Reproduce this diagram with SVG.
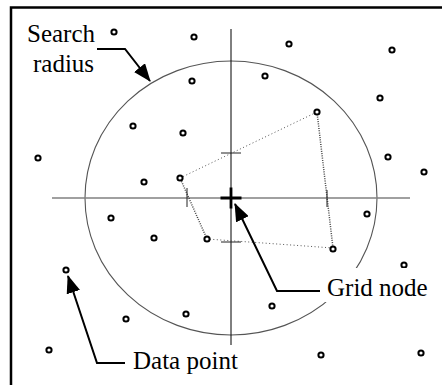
<svg xmlns="http://www.w3.org/2000/svg" width="442" height="385" viewBox="0 0 442 385">
<defs>
<style>
.frame{stroke:#000;stroke-width:2.5;fill:none}
.axisv{stroke:#000;stroke-width:1;fill:none}
.axish{stroke:#808080;stroke-width:1.5;fill:none}
.radius{stroke:#555;stroke-width:1.1;fill:none}
.edge{stroke:#555;stroke-width:1;stroke-dasharray:1 2.5;fill:none}
.edge2{stroke:#444;stroke-width:1.5;stroke-dasharray:1 1.3;fill:none}
.tick{stroke:#222;stroke-width:1;fill:none}
.pt{stroke:#000;stroke-width:2;fill:#fff}
.lead{stroke:#000;stroke-width:2;fill:none}
.lbl{font-size:25px;fill:#000}
</style>
<marker id="arr" viewBox="0 0 18 14" refX="17" refY="7" markerWidth="18" markerHeight="14" markerUnits="userSpaceOnUse" orient="auto">
<path d="M0,0 L18,7 L0,14 Z" fill="#000"/>
</marker>
</defs>
<rect width="442" height="385" fill="#fff"/>
<path class="frame" d="M11,385 V7.5 H442"/>
<g id="search-circle">
<ellipse class="radius" cx="231" cy="198" rx="146" ry="137"/>
</g>
<g id="axes">
<line class="axish" x1="52" y1="198" x2="410" y2="198"/>
<line class="axisv" x1="231" y1="29" x2="231" y2="345"/>
</g>
<g id="neighborhood">
<line class="edge" x1="180" y1="178" x2="317" y2="112"/>
<line class="edge2" x1="317" y1="112" x2="333" y2="248"/>
<line class="edge" x1="333" y1="248" x2="207" y2="239"/>
<line class="edge2" x1="207" y1="239" x2="180" y2="178"/>
<line class="tick" x1="221" y1="153" x2="241" y2="153"/>
<line class="tick" x1="221" y1="242" x2="241" y2="242"/>
<line class="tick" x1="187" y1="188" x2="187" y2="207"/>
<line class="tick" x1="327" y1="190" x2="327" y2="207"/>
</g>
<g id="grid-node">
<path d="M220.5,198 H241.5 M231,187.5 V208.5" stroke="#000" stroke-width="2.8" fill="none"/>
</g>
<g id="data-points">
<circle class="pt" cx="114" cy="32" r="2.6"/>
<circle class="pt" cx="194" cy="37" r="2.6"/>
<circle class="pt" cx="192" cy="81" r="2.6"/>
<circle class="pt" cx="133" cy="126" r="2.6"/>
<circle class="pt" cx="183" cy="133" r="2.6"/>
<circle class="pt" cx="38" cy="158" r="2.6"/>
<circle class="pt" cx="144" cy="182" r="2.6"/>
<circle class="pt" cx="180" cy="178" r="2.6"/>
<circle class="pt" cx="289" cy="44" r="2.6"/>
<circle class="pt" cx="392" cy="50" r="2.6"/>
<circle class="pt" cx="265" cy="76" r="2.6"/>
<circle class="pt" cx="380" cy="98" r="2.6"/>
<circle class="pt" cx="317" cy="112" r="2.6"/>
<circle class="pt" cx="388" cy="157" r="2.6"/>
<circle class="pt" cx="424" cy="172" r="2.6"/>
<circle class="pt" cx="111" cy="218" r="2.6"/>
<circle class="pt" cx="154" cy="238" r="2.6"/>
<circle class="pt" cx="207" cy="239" r="2.6"/>
<circle class="pt" cx="66" cy="270" r="2.6"/>
<circle class="pt" cx="126" cy="319" r="2.6"/>
<circle class="pt" cx="186" cy="314" r="2.6"/>
<circle class="pt" cx="49" cy="350" r="2.6"/>
<circle class="pt" cx="367" cy="214" r="2.6"/>
<circle class="pt" cx="333" cy="249" r="2.6"/>
<circle class="pt" cx="404" cy="265" r="2.6"/>
<circle class="pt" cx="272" cy="306" r="2.6"/>
<circle class="pt" cx="321" cy="355" r="2.6"/>
<circle class="pt" cx="421" cy="353" r="2.6"/>
</g>
<g id="label-search-radius" font-family="'Liberation Serif', 'Times New Roman', serif">
<text class="lbl" x="27" y="42">Search</text>
<text class="lbl" x="33" y="72">radius</text>
</g>
<g id="label-grid-node" font-family="'Liberation Serif', 'Times New Roman', serif">
<rect x="322" y="268" width="112" height="34" fill="#fff"/>
<text class="lbl" x="327" y="296">Grid node</text>
</g>
<g id="label-data-point" font-family="'Liberation Serif', 'Times New Roman', serif">
<text class="lbl" x="133" y="369">Data point</text>
</g>
<g id="connectors">
<polyline class="lead" points="97,49 125,49 150,81" marker-end="url(#arr)"/>
<polyline class="lead" points="320,291 277,291 235,204" marker-end="url(#arr)"/>
<polyline class="lead" points="125,363 97,363 68,276" marker-end="url(#arr)"/>
</g>
</svg>
